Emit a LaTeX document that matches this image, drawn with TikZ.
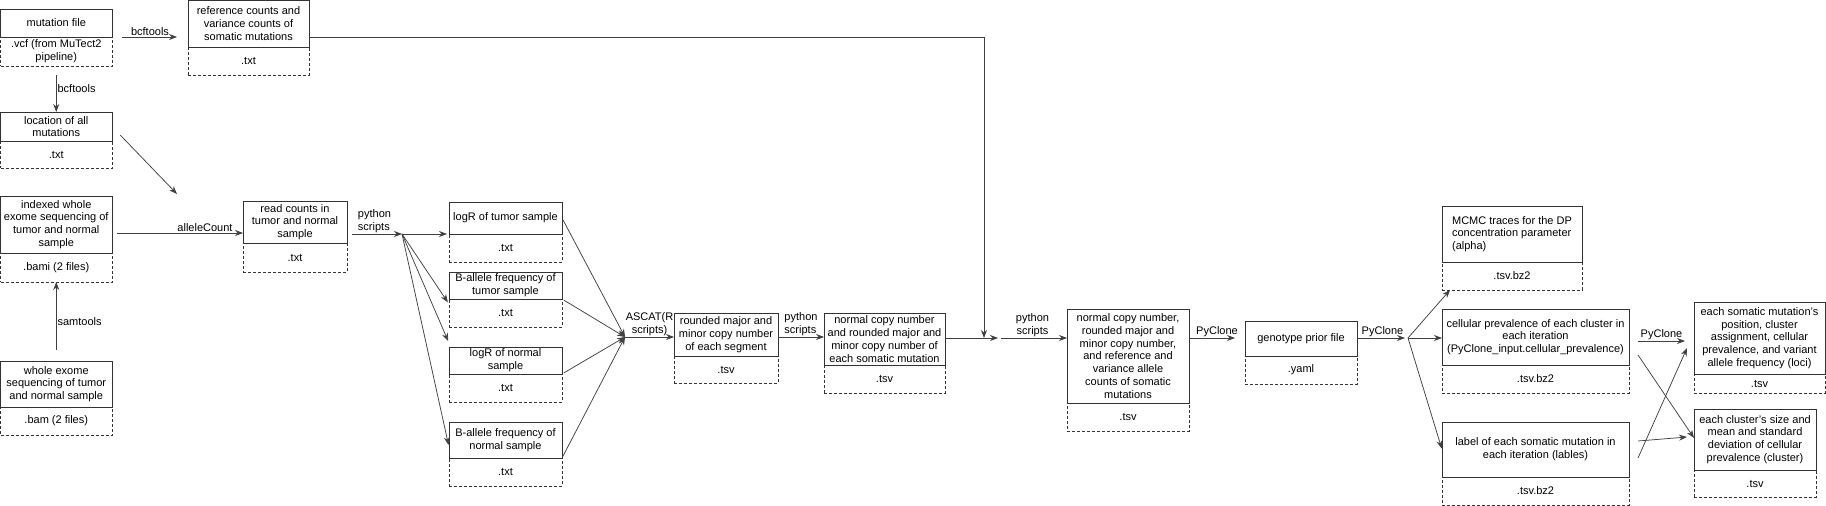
\documentclass[tikz,border=0pt]{standalone}
\usepackage{fontspec}
\setmainfont{Liberation Sans}
\usetikzlibrary{arrows.meta,positioning}

\newcommand{\fuente}{\fontsize{11}{12.8}\selectfont}
% caja de archivo: nombre, x izq, arriba, division, x der, abajo, texto, extension
\newcommand{\archivo}[9][]{%
  \node[ext, anchor=north west, minimum width={(#6-#3)*1pt}, minimum height={(#7-#5)*1pt}] (#2x) at (#3,#5) {#9};
  \node[titulo, #1, above=0pt of #2x, minimum width={(#6-#3)*1pt}, minimum height={(#5-#4)*1pt}] (#2) {#8};
}

\begin{document}
\begin{tikzpicture}[x=1pt, y=-1pt,
  titulo/.style={draw=black!80, line width=0.7pt, align=center, inner sep=1pt, outer sep=0pt, font=\fuente},
  ext/.style={titulo, dash pattern=on 3pt off 2pt},
  flecha/.style={draw=black!75, line width=0.75pt, -{Stealth[length=8pt,width=6pt]}},
  etiqueta/.style={font=\fuente, inner sep=1pt, align=center}]
  \useasboundingbox (0,0) rectangle (1826,506);

  % Entradas
  \archivo{mut}{0.5}{9}{37}{112}{66}{mutation file}{.vcf (from MuTect2\\pipeline)}
  \archivo{refc}{188}{0.5}{47}{309}{75}{reference counts and\\variance counts of\\somatic mutations}{.txt}
  \archivo{loc}{0.5}{112}{141}{112}{168}{location of all\\mutations}{.txt}
  \archivo{idx}{0.5}{196}{253}{112}{282}{indexed whole\\exome sequencing of\\tumor and normal\\sample}{.bami (2 files)}
  \archivo{bam}{0.5}{361}{407}{112}{435}{whole exome\\sequencing of tumor\\and normal sample}{.bam (2 files)}

  % Conteos y ASCAT
  \archivo{rc}{243}{201}{243}{347}{272}{read counts in\\tumor and normal\\sample}{.txt}
  \archivo{logRt}{449}{202}{234}{562}{262}{logR of tumor sample}{.txt}
  \archivo{baft}{449}{272}{299}{562}{327}{B-allele frequency of\\tumor sample}{.txt}
  \archivo{logRn}{449}{347}{374}{562}{402}{logR of normal\\sample}{.txt}
  \archivo{bafn}{449}{422}{458}{562}{486}{B-allele frequency of\\normal sample}{.txt}
  \archivo{seg}{674}{313}{356}{778}{383}{rounded major and\\minor copy number\\of each segment}{.tsv}
  \archivo{cnm}{824}{313}{365}{945}{393}{normal copy number\\and rounded major and\\minor copy number of\\each somatic mutation}{.tsv}

  % PyClone
  \archivo{big}{1067}{309}{403}{1189}{431}{normal copy number,\\rounded major and\\minor copy number,\\and reference and\\variance allele\\counts of somatic\\mutations}{.tsv}
  \archivo{gen}{1245}{321}{356}{1357}{384}{genotype prior file}{.yaml}
  \archivo[align=left]{mcmc}{1442}{206}{262}{1582}{290}{MCMC traces for the DP\\concentration parameter\\(alpha)}{.tsv.bz2}
  \archivo{cell}{1442}{309}{365}{1629}{393}{cellular prevalence of each cluster in\\each iteration\\(PyClone\_input.cellular\_prevalence)}{.tsv.bz2}
  \archivo{lab}{1442}{422}{477}{1629}{505}{label of each somatic mutation in\\each iteration (lables)}{.tsv.bz2}
  \archivo{loci}{1694}{302}{374}{1825}{393}{each somatic mutation's\\position, cluster\\assignment, cellular\\prevalence, and variant\\allele frequency (loci)}{.tsv}
  \archivo{clu}{1694}{409}{470}{1816}{497}{each cluster's size and\\mean and standard\\deviation of cellular\\prevalence (cluster)}{.tsv}

  % Puntos de union
  \coordinate (codo) at (984,37.7);
  \coordinate (union) at (998,338);
  \coordinate (ac) at (177,194);
  \coordinate (erc) at ([yshift=-11pt]rc.west);
  \coordinate (abanico) at (402,234);
  \coordinate (ascat) at (625,337);
  \coordinate (pyc) at (1408,338);

  % Flechas de la izquierda
  \draw[flecha, shorten <=10pt, shorten >=11pt] (mutx.north east) -- (mutx.north east -| refc.west)
    node[midway, above, etiqueta] {bcftools};
  \draw[flecha, shorten <=9pt] (mutx) -- (loc) node[midway, right, etiqueta] {bcftools};
  \draw[flecha] (refc.east |- codo) -- (codo) -- (codo |- union);
  \draw[flecha, shorten <=12pt] (loc.east) -- (ac);
  \draw[flecha, shorten <=5pt] (idx.east |- erc) -- (erc) node[pos=0.71, above, etiqueta] {alleleCount};
  \draw[flecha, shorten <=11pt] (bam) -- (idxx) node[midway, right, etiqueta] {samtools};

  % Scripts y ASCAT
  \draw[flecha, shorten <=5pt] (rc.east |- abanico) -- (abanico)
    node[midway, above, etiqueta, align=left] {python\\scripts};
  \foreach \d/\s in {logRtx.north west/0, baftx.north west/-5, logRn.north west/4, bafn.west/-7}
    \draw[flecha, shorten >=2pt] (abanico) -- ([yshift=\s pt]\d);
  \foreach \d in {logRt.east, baftx.north east, logRnx.north east, bafnx.north east}
    \draw[flecha, shorten <=2pt] (\d) -- (ascat);
  \draw[flecha] (ascat) -- (ascat -| seg.west) node[midway, above, etiqueta] {ASCAT(R\\scripts)};
  \draw[flecha] (seg.east |- ascat) -- (ascat -| cnm.west)
    node[midway, above, etiqueta, align=left] {python\\scripts};
  \draw[flecha] (cnm.east |- union) -- (union);
  \draw[flecha, shorten <=3pt] (union) -- (union -| big.west)
    node[midway, above, etiqueta] {python\\scripts};

  % PyClone
  \draw[flecha, shorten >=10pt] (big.east |- union) -- (union -| gen.west)
    node[midway, above, etiqueta] {PyClone};
  \draw[flecha, shorten >=3pt] (gen.east |- pyc) -- (pyc) node[midway, above, etiqueta] {PyClone};
  \draw[flecha] (pyc) -- ([xshift=8pt]mcmcx.south west);
  \draw[flecha] (pyc) -- (pyc -| cell.west);
  \draw[flecha, shorten >=1pt] (pyc) -- (lab.west);
  \draw[flecha, shorten <=9pt, shorten >=9pt] ([yshift=-4pt]cell.east) -- ([yshift=-4pt]cell.east -| loci.west)
    node[midway, above, etiqueta] {PyClone};
  \draw[flecha] ([xshift=9pt, yshift=-18pt]cell.east) -- ([yshift=-29pt]clu.north west);
  \draw[flecha] ([xshift=9pt, yshift=8.5pt]lab.east) -- ([xshift=-7pt, yshift=2.5pt]clu.west);
  \draw[flecha] ([xshift=9pt, yshift=-8.5pt]lab.east) -- ([xshift=-7pt, yshift=-10pt]loci.west);
\end{tikzpicture}
\end{document}
